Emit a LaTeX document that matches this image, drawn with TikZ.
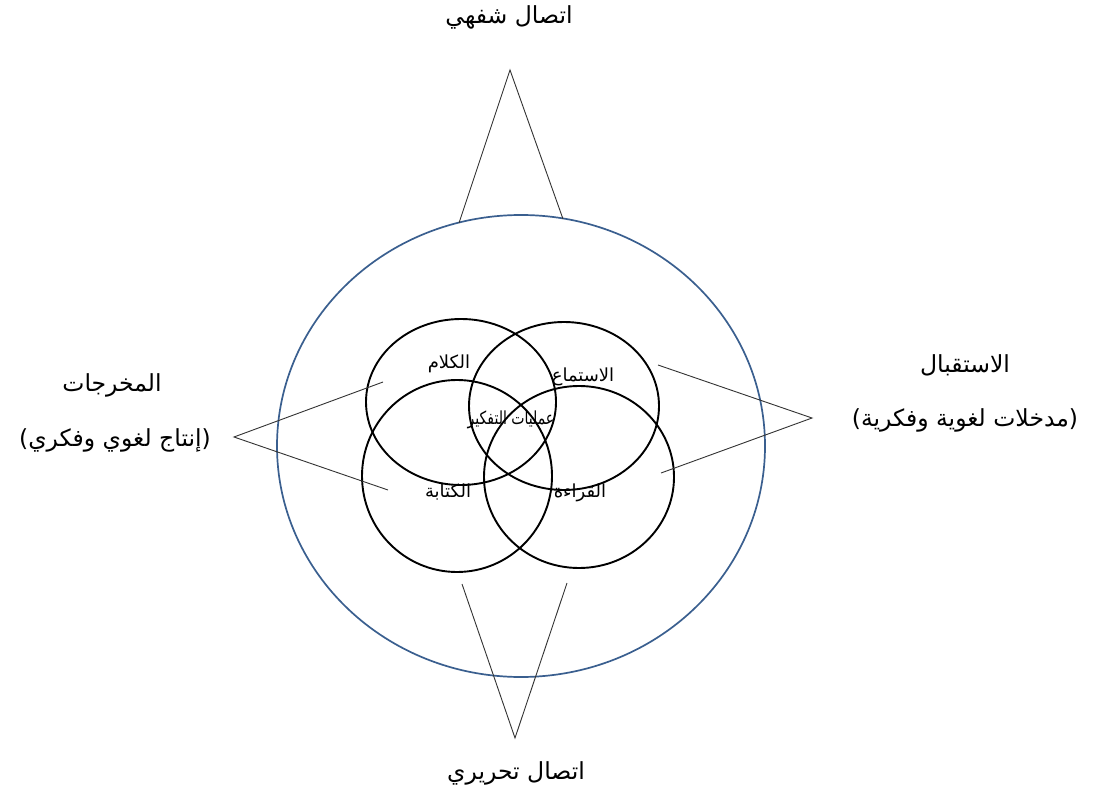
\documentclass[tikz,border=0pt]{standalone}
\usepackage{fontspec}
\TeXXeTstate=1
\newfontfamily\arabicfont[Script=Arabic]{DejaVu Sans}
\newfontfamily\parenfont{DejaVu Sans}
\definecolor{bigblue}{HTML}{3A5F8F}
\definecolor{linegray}{HTML}{333333}
\tikzset{
  bigring/.style={draw=bigblue, line width=1.7pt},
  skill/.style={draw=black, line width=1.9pt},
  wedge/.style={draw=linegray, line width=0.9pt, line join=miter},
  outerlabel/.style={inner sep=0pt, font=\arabicfont\fontsize{23.5}{28}\selectfont},
  innerlabel/.style={inner sep=0pt, font=\arabicfont\fontsize{18}{22}\selectfont},
}
\newcommand{\lpar}{{\parenfont(}}
\newcommand{\rpar}{{\parenfont)}}
\begin{document}
\begin{tikzpicture}[x=1pt,y=-1pt]
\useasboundingbox (0,0) rectangle (1099,791);
\fill[white] (0,0) rectangle (1099,791);

% big circle
\draw[bigring] (521,446) ellipse [x radius=244, y radius=231];

% four skill circles
\draw[skill] (461,402) ellipse [x radius=95, y radius=83];
\draw[skill] (564,406) ellipse [x radius=95, y radius=84];
\draw[skill] (457,476) ellipse [x radius=95, y radius=96];
\draw[skill] (579,477) ellipse [x radius=95, y radius=91];

% wedge coordinates
\coordinate (tA) at (510,70);
\coordinate (tL) at (459,223);
\coordinate (tR) at (563,219);
\coordinate (bA) at (515,738);
\coordinate (bL) at (462,584);
\coordinate (bR) at (567,583);
\coordinate (lA) at (234,437);
\coordinate (lU) at (383,382);
\coordinate (lD) at (388,490);
\coordinate (rA) at (812,418);
\coordinate (rU) at (658,365);
\coordinate (rD) at (661,473);

\draw[wedge] (tL) -- (tA) -- (tR);
\draw[wedge] (bL) -- (bA) -- (bR);
\draw[wedge] (lU) -- (lA) -- (lD);
\draw[wedge] (rU) -- (rA) -- (rD);

% outer labels
\node[outerlabel] (oral) at (509,17) {\beginR اتصال شفهي\endR};
\node[outerlabel] (written) at (516,773) {\beginR اتصال تحريري\endR};
\node[outerlabel] (out1) at (112,385) {\beginR المخرجات\endR};
\node[outerlabel] (out2) at (115,440) {\lpar\beginR إنتاج لغوي وفكري\endR\rpar};
\node[outerlabel] (in1) at (965,365) {\beginR الاستقبال\endR};
\node[outerlabel] (in2) at (965,420) {\lpar\beginR مدخلات لغوية وفكرية\endR\rpar};

% inner labels
\node[innerlabel] (speak) at (449,364) {\beginR الكلام\endR};
\node[innerlabel] (listen) at (583,377) {\beginR الاستماع\endR};
\node[innerlabel] (think) at (511,420) {\scalebox{0.78}[1]{\beginR عمليات التفكير\endR}};
\node[innerlabel] (write) at (448,492) {\beginR الكتابة\endR};
\node[innerlabel] (read) at (580,493) {\beginR القراءة\endR};
\end{tikzpicture}
\end{document}
